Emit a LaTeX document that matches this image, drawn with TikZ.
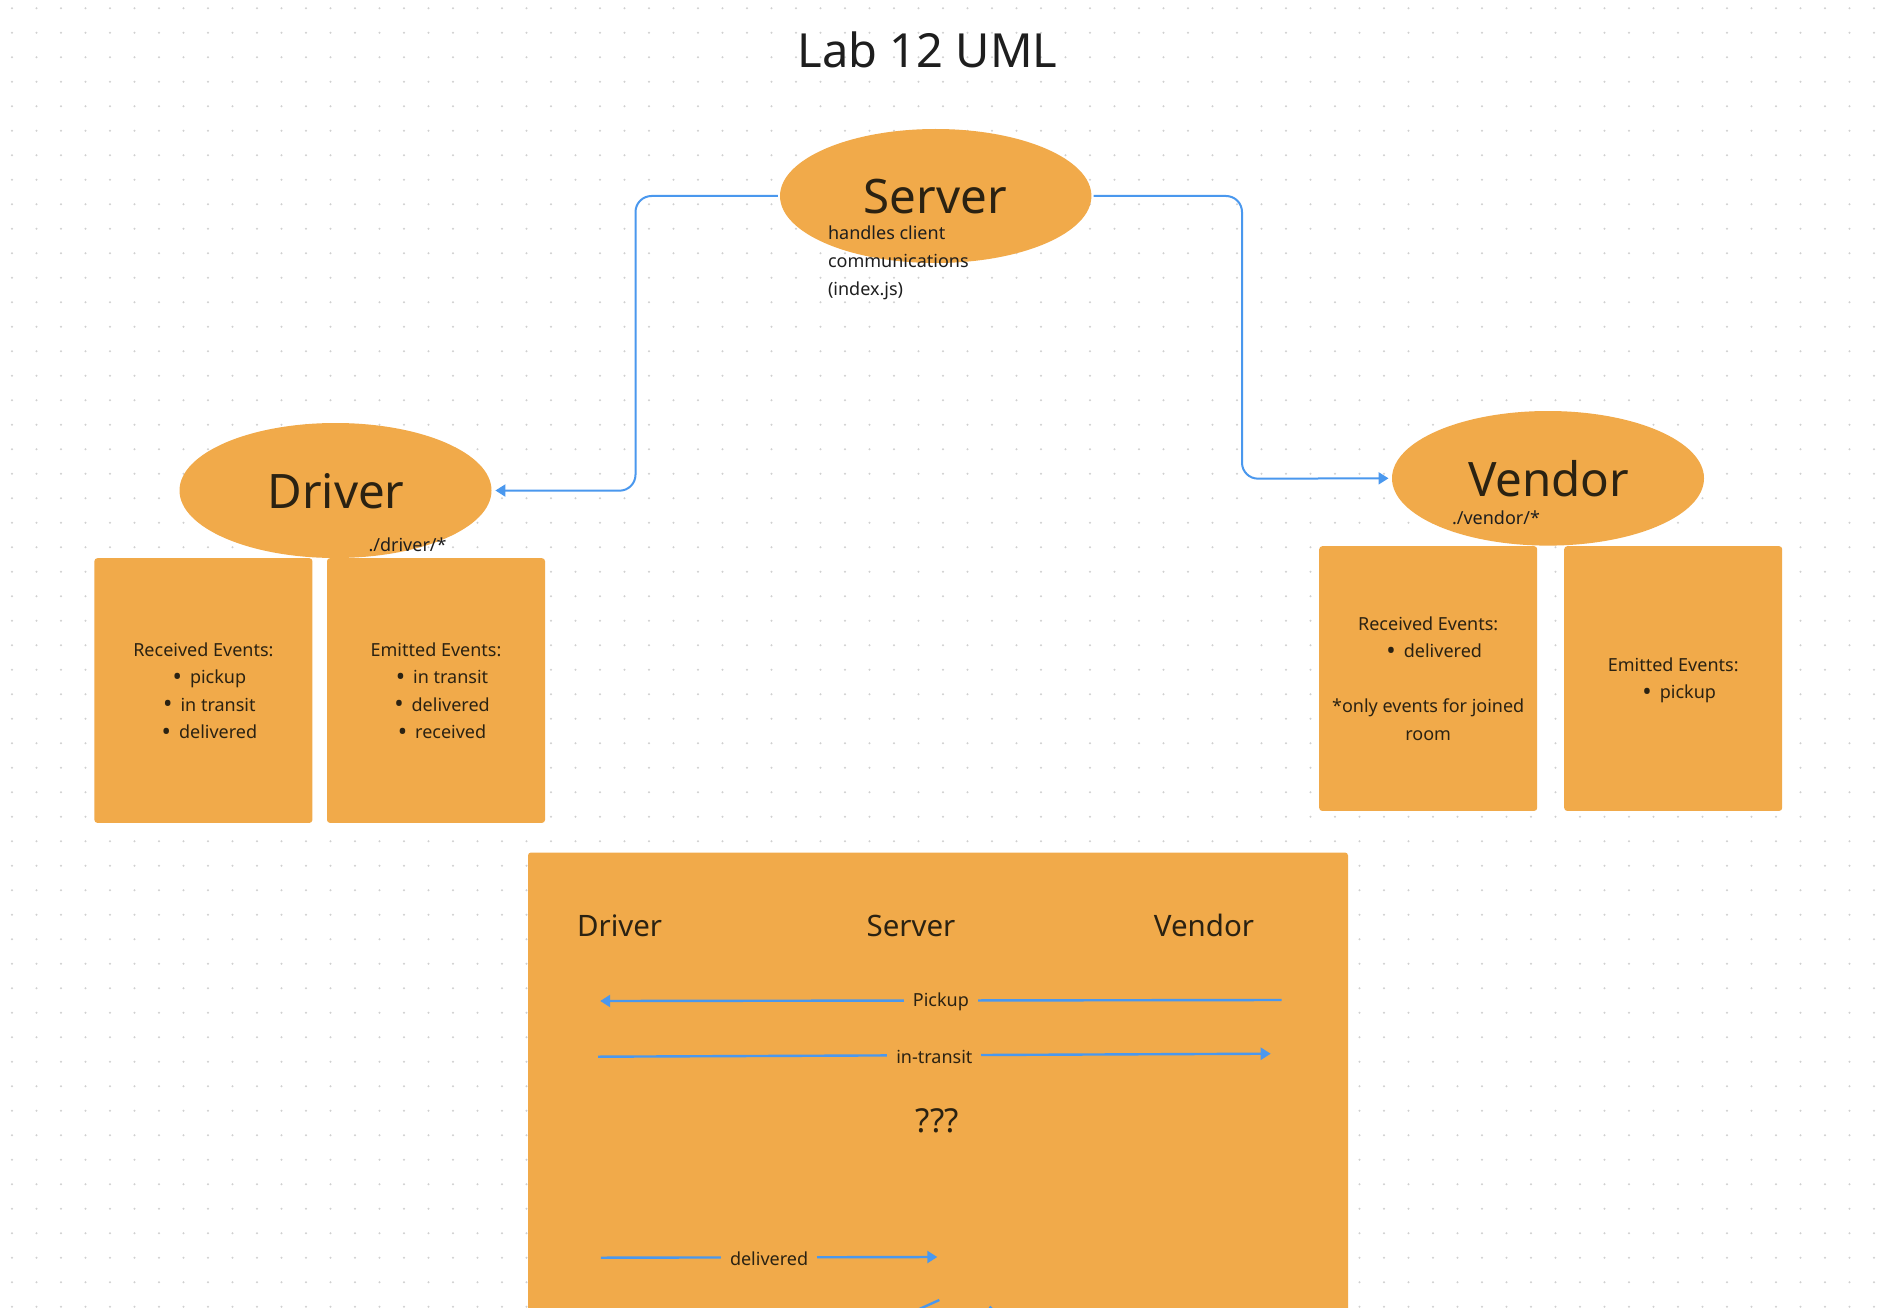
\documentclass[tikz,border=0pt]{standalone}
\usepackage{fontspec}
\setmainfont{Noto Sans}
\usetikzlibrary{shapes.geometric,arrows.meta}
\definecolor{sticky}{HTML}{F1AA4A}
\definecolor{wire}{HTML}{4A98EE}
\definecolor{ink}{HTML}{1E1E1E}
\definecolor{darkink}{HTML}{2B2212}
\definecolor{dotc}{HTML}{D0D0D0}
\newcommand{\bul}{\hspace*{12pt}\raisebox{-1.3pt}{\fontsize{25}{27.5}\selectfont •}\hspace{8pt}}
\begin{document}
\begin{tikzpicture}[x=1pt,y=-1pt,
  ellnode/.style={ellipse, fill=sticky, inner sep=0pt, minimum width=312pt, minimum height=134.5pt},
  bigtxt/.style={anchor=base, text=darkink, font=\fontsize{47.5}{56}\selectfont},
  smalltxt/.style={anchor=base west, text=ink, font=\fontsize{18}{27.5}\selectfont},
  card/.style={rectangle, fill=sticky, rounded corners=3pt, anchor=north west, inner sep=0pt,
    minimum width=218pt, minimum height=264.7pt},
  cardtxt/.style={align=center, text=darkink, inner sep=0pt, font=\fontsize{18}{27.5}\selectfont},
  conn/.style={draw=wire, line width=2pt, rounded corners=16pt, -{Triangle[length=10pt,width=12pt]}},
  msg/.style={draw=wire, line width=2.4pt, -{Triangle[length=10pt,width=12pt]}},
  msglbl/.style={fill=sticky, inner xsep=9pt, inner ysep=3pt, yshift=-1.5pt, text=darkink, font=\fontsize{18}{22}\selectfont},
  head/.style={anchor=base, text=darkink, font=\fontsize{29.5}{34}\selectfont}
]
\clip (0,0) rectangle (1890,1308);
\useasboundingbox (0,0) rectangle (1890,1308);
\fill[white] (0,0) rectangle (1890,1308);
\foreach \i in {0,...,77}{\foreach \j in {0,...,53}{\fill[dotc] (12+24.5*\i, 8.2+24.5*\j) circle[radius=1.1pt];}}

% title
\node[anchor=base, text=ink, font=\fontsize{47}{56}\selectfont] (title) at (927.5,67.3) {Lab 12 UML};

% ellipses
\node[ellnode, minimum width=311.4pt, minimum height=134pt] (server) at (935.7,196) {};
\node[ellnode, minimum width=312pt, minimum height=135pt] (driver) at (335.5,490.5) {};
\node[ellnode, minimum width=312pt, minimum height=134.6pt] (vendor) at (1548,478.3) {};
\node[bigtxt] (servertxt) at (935.4,214) {Server};
\node[bigtxt] (drivertxt) at (336,508) {Driver};
\node[bigtxt] (vendortxt) at (1548.7,496.7) {Vendor};

\node[smalltxt] (desc1) at (824.5,240) {handles client};
\node[smalltxt] (desc2) at (824.5,267.5) {communications};
\node[smalltxt] (desc3) at (824.5,295) {(index.js)};
\node[smalltxt] (driverpath) at (365,551.7) {./driver/*};
\node[smalltxt] (vendorpath) at (1448.5,524) {./vendor/*};

% connectors
\coordinate (lbend) at (635.5,490.7);
\coordinate (rbend) at (1242,478.7);
\draw[conn, shorten <=2pt, shorten >=3.7pt] (server.west) -| (lbend) -- (driver.east);
\draw[conn, shorten <=2pt, shorten >=3.3pt] (server.east) -| (rbend) -- (vendor.west);

% cards
\node[card] (drecv) at (94.2,558) {};
\node[card] (demit) at (326.8,558) {};
\node[card] (vrecv) at (1319,546) {};
\node[card] (vemit) at (1564,546) {};
\node[cardtxt] (drecvtxt) at ([yshift=-1pt]drecv.center) {Received Events:\\
  \bul pickup\\
  \bul in transit\\
  \bul delivered};
\node[cardtxt] (demittxt) at ([yshift=-1pt]demit.center) {Emitted Events:\\
  \bul in transit\\
  \bul delivered\\
  \bul received};
\node[cardtxt] (vrecvtxt) at (vrecv.center) {Received Events:\\
  \bul delivered\\[27.5pt]
  *only events for joined\\
  room};
\node[cardtxt] (vemittxt) at ([yshift=-2pt]vemit.center) {Emitted Events:\\
  \bul pickup};

% sequence panel
\fill[sticky, rounded corners=3pt] (528,852.5) rectangle (1348,1330);
\node[head] (seqdriver) at (619.6,936) {Driver};
\node[head] (seqserver) at (911,936) {Server};
\node[head] (seqvendor) at (1204,936) {Vendor};

\coordinate (pkR) at (1281.5,1000);
\coordinate (pkL) at (600.2,1001);
\coordinate (itL) at (598,1056.7);
\coordinate (itR) at (1270.7,1053.7);
\coordinate (dlL) at (600.8,1257.7);
\coordinate (dlR) at (937.3,1257);
\draw[msg] (pkR) -- node[msglbl] (pklbl) {Pickup} (pkL);
\draw[msg] (itL) -- node[msglbl] (itlbl) {in-transit} (itR);
\draw[msg] (dlL) -- node[msglbl] (dllbl) {delivered} (dlR);
\node[text=darkink, font=\fontsize{33}{38}\selectfont] (qqq) at (937.3,1120.7) {???};

% partial connectors cut off at the bottom
\coordinate (frA1) at (939.3,1300);
\coordinate (frA2) at (915,1311);
\coordinate (frB1) at (989.5,1306.5);
\coordinate (frB2) at (994,1311);
\draw[wire, line width=2.4pt] (frA1) -- (frA2);
\draw[wire, line width=2.4pt] (frB1) -- (frB2);
\end{tikzpicture}
\end{document}
